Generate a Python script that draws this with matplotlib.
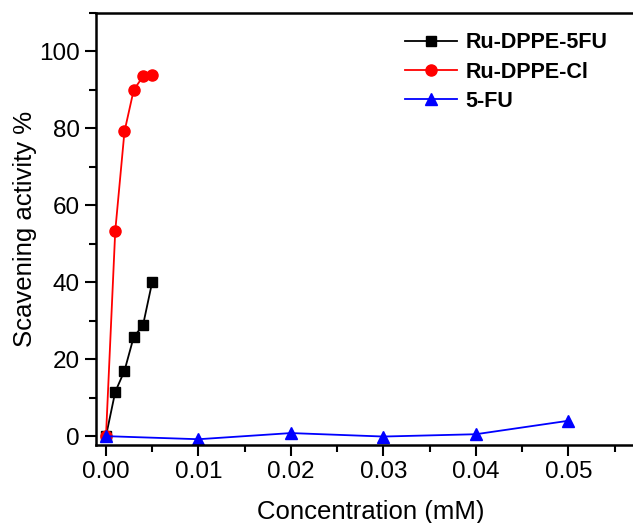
import matplotlib
matplotlib.use('Agg')
import matplotlib.pyplot as plt
from matplotlib.ticker import MultipleLocator

plt.rcParams['font.family'] = ['Liberation Sans', 'DejaVu Sans']

conc_complex = [0.0, 0.001, 0.002, 0.003, 0.004, 0.005]
ru_5fu = [0.0, 11.5, 17.0, 25.8, 28.8, 40.1]
ru_cl = [0.0, 53.3, 79.2, 90.0, 93.5, 94.0]

conc_5fu = [0.0, 0.01, 0.02, 0.03, 0.04, 0.05]
fu = [0.0, -0.8, 0.8, -0.1, 0.5, 4.0]

fig = plt.figure(figsize=(6.33, 5.23), dpi=100)
ax = fig.add_axes([96 / 633, 78 / 523, 550 / 633, 432 / 523])

ax.plot(conc_complex, ru_5fu, 'ks-', lw=1.3, ms=7, label='Ru-DPPE-5FU')
ax.plot(conc_complex, ru_cl, 'o-', color='red', lw=1.3, ms=8, label='Ru-DPPE-Cl')
ax.plot(conc_5fu, fu, '^-', color='blue', lw=1.3, ms=8, label='5-FU')

ax.set_xlim(-0.00108, 0.0584)
ax.set_ylim(-2.3, 110)
ax.xaxis.set_major_locator(MultipleLocator(0.01))
ax.xaxis.set_minor_locator(MultipleLocator(0.005))
ax.yaxis.set_major_locator(MultipleLocator(20))
ax.yaxis.set_minor_locator(MultipleLocator(10))
ax.xaxis.set_major_formatter(plt.FormatStrFormatter('%.2f'))

ax.tick_params(which='major', direction='out', length=8, width=1.5, labelsize=17.5)
ax.tick_params(which='minor', direction='out', length=5, width=1.5)
for s in ax.spines.values():
    s.set_linewidth(1.8)

ax.set_xlabel('Concentration (mM)', fontsize=18.5, labelpad=12)
ax.set_ylabel('Scavening activity %', fontsize=18.5, labelpad=2)

leg = ax.legend(loc='upper left', bbox_to_anchor=(290 / 550, 1.0), frameon=False,
                prop={'weight': 'bold', 'size': 15.5}, handlelength=2.4,
                labelspacing=0.38, handletextpad=0.4)

plt.savefig('out.png', dpi=100)
